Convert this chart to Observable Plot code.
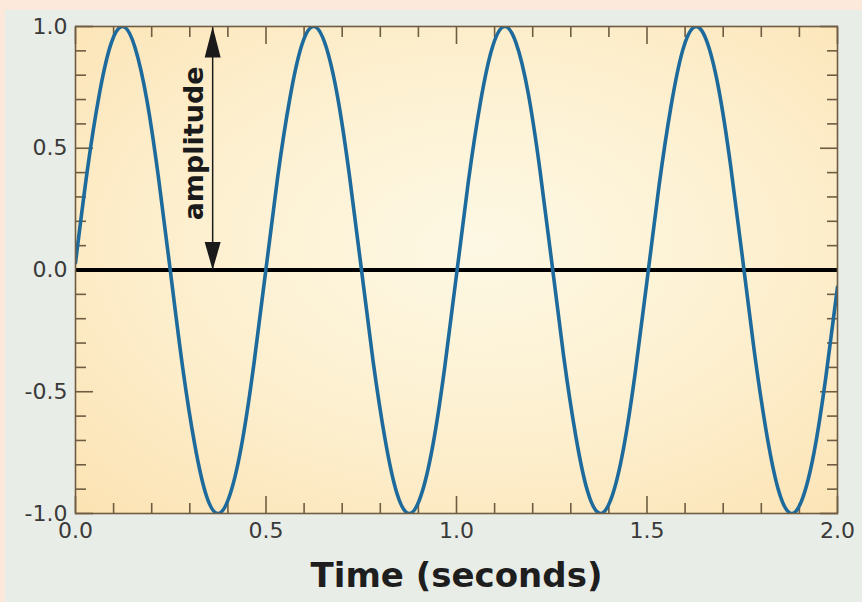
<!DOCTYPE html>
<html>
<head>
<meta charset="utf-8">
<script src="https://cdn.jsdelivr.net/npm/d3@7"></script>
<script src="https://cdn.jsdelivr.net/npm/@observablehq/plot@0.6"></script>
<style>
  html, body { margin: 0; padding: 0; background: #e9ede7; }
  #chart svg { display: block; }
</style>
</head>
<body>
<div id="chart"></div>
<script>
const timeSec = [0, 0.031, 0.063, 0.094, 0.125, 0.156, 0.188, 0.219, 0.25, 0.281, 0.313, 0.344, 0.375, 0.406, 0.438, 0.469,
  0.5, 0.531, 0.563, 0.594, 0.625, 0.656, 0.688, 0.719, 0.75, 0.781, 0.813, 0.844, 0.875, 0.906, 0.938, 0.969,
  1.0, 1.031, 1.063, 1.094, 1.125, 1.156, 1.188, 1.219, 1.25, 1.281, 1.313, 1.344, 1.375, 1.406, 1.438, 1.469,
  1.5, 1.531, 1.563, 1.594, 1.625, 1.656, 1.688, 1.719, 1.75, 1.781, 1.813, 1.844, 1.875, 1.906, 1.938, 1.969, 2.0];
const amplitudeVal = [0.030, 0.409, 0.726, 0.933, 1.000, 0.915, 0.692, 0.365, -0.017, -0.397, -0.717, -0.929, -1.000, -0.920, -0.701, -0.377,
  0.005, 0.386, 0.708, 0.924, 1.000, 0.925, 0.710, 0.388, 0.008, -0.374, -0.699, -0.919, -1.000, -0.930, -0.719, -0.400,
  -0.020, 0.362, 0.690, 0.914, 1.000, 0.934, 0.728, 0.411, 0.033, -0.351, -0.681, -0.909, -0.999, -0.939, -0.736, -0.423,
  -0.045, 0.339, 0.672, 0.904, 0.999, 0.943, 0.745, 0.434, 0.058, -0.327, -0.663, -0.898, -0.998, -0.947, -0.753, -0.445, -0.070];

const xMajorTicks = [0, 0.5, 1.0, 1.5, 2.0];
const xMinorTicks = [0.1, 0.2, 0.3, 0.4, 0.6, 0.7, 0.8, 0.9, 1.1, 1.2, 1.3, 1.4, 1.6, 1.7, 1.8, 1.9];
const yMajorTicks = [-1.0, -0.5, 0.0, 0.5, 1.0];
const yMinorTicks = [-0.9, -0.8, -0.7, -0.6, -0.4, -0.3, -0.2, -0.1, 0.1, 0.2, 0.3, 0.4, 0.6, 0.7, 0.8, 0.9];

const xLabel = "Time (seconds)";
const annotationLabel = "amplitude";
const annotationTime = [0.36];   // where the amplitude arrow stands
const annotationFrom = 0;
const annotationTo = 1;
const annotationTextAt = 0.52;

const wave = timeSec.map((t, i) => ({t, v: amplitudeVal[i]}));

const frameColor = "#6e5d42";
const fmt = d => d.toFixed(1);

const defs = () => {
  const svgDefs = d3.create("svg:defs");
  const g = svgDefs.append("radialGradient")
    .attr("id", "bgGrad")
    .attr("cx", "0.53").attr("cy", "0.45").attr("r", "0.75");
  g.append("stop").attr("offset", "0%").attr("stop-color", "#fdf8e4");
  g.append("stop").attr("offset", "50%").attr("stop-color", "#fdf0d0");
  g.append("stop").attr("offset", "100%").attr("stop-color", "#fce3b4");
  return svgDefs.node();
};

const upHead = { draw(ctx) { ctx.moveTo(0, 0); ctx.lineTo(-8, 31); ctx.lineTo(8, 31); ctx.closePath(); } };
const downHead = { draw(ctx) { ctx.moveTo(0, 0); ctx.lineTo(-8, -28); ctx.lineTo(8, -28); ctx.closePath(); } };

const tickStyle = {stroke: frameColor, strokeWidth: 1.6, label: null};
const labelStyle = {fontSize: 22, fill: "#3a3a3a"};

const chart = Plot.plot({
  width: 862,
  height: 602,
  marginLeft: 75,
  marginRight: 25,
  marginTop: 26,
  marginBottom: 89,
  style: {
    fontFamily: "DejaVu Sans, Verdana, sans-serif",
    background: "#e9ede7",
    boxShadow: "inset 5px 10px 0 #fce9dc",
    overflow: "visible"
  },
  x: {domain: [0, 2]},
  y: {domain: [-1, 1]},
  marks: [
    defs,
    Plot.frame({fill: "url(#bgGrad)", stroke: "none"}),
    // bottom axis
    Plot.axisX(xMajorTicks, {anchor: "bottom", tickSize: -17, tickPadding: 26, tickFormat: fmt, ...tickStyle, ...labelStyle}),
    Plot.axisX(xMinorTicks, {anchor: "bottom", tickSize: -10, tickFormat: () => "", ...tickStyle}),
    // top axis
    Plot.axisX(xMajorTicks, {anchor: "top", tickSize: -17, tickFormat: () => "", ...tickStyle}),
    Plot.axisX(xMinorTicks, {anchor: "top", tickSize: -10, tickFormat: () => "", ...tickStyle}),
    // left axis
    Plot.axisY(yMajorTicks, {anchor: "left", tickSize: -18, tickPadding: 26, tickFormat: fmt, ...tickStyle, ...labelStyle}),
    Plot.axisY(yMinorTicks, {anchor: "left", tickSize: -11, tickFormat: () => "", ...tickStyle}),
    // right axis
    Plot.axisY(yMajorTicks, {anchor: "right", tickSize: -18, tickFormat: () => "", ...tickStyle}),
    Plot.axisY(yMinorTicks, {anchor: "right", tickSize: -11, tickFormat: () => "", ...tickStyle}),
    Plot.ruleY([0], {stroke: "#000", strokeWidth: 4}),
    Plot.line(wave, {x: "t", y: "v", stroke: "#1d6a9c", strokeWidth: 3.6, curve: "natural", clip: true}),
    // amplitude arrow
    Plot.ruleX(annotationTime, {y1: annotationFrom, y2: annotationTo, stroke: "#1a1a1a", strokeWidth: 1.5}),
    Plot.dot(annotationTime, {x: d => d, y: annotationTo, symbol: upHead, fill: "#1a1a1a", stroke: "none", r: 5}),
    Plot.dot(annotationTime, {x: d => d, y: annotationFrom, symbol: downHead, fill: "#1a1a1a", stroke: "none", r: 5}),
    Plot.text(annotationTime, {x: d => d, y: annotationTextAt, text: () => annotationLabel, rotate: -90, dx: -18,
      fontSize: 27, fontWeight: "bold", fill: "#1a1a1a"}),
    Plot.frame({stroke: frameColor, strokeWidth: 1.6}),
    Plot.text([xLabel], {frameAnchor: "bottom", dy: 73, fontSize: 34, fontWeight: "bold", fill: "#1e1e1e"})
  ]
});
document.getElementById("chart").append(chart);
</script>
</body>
</html>
